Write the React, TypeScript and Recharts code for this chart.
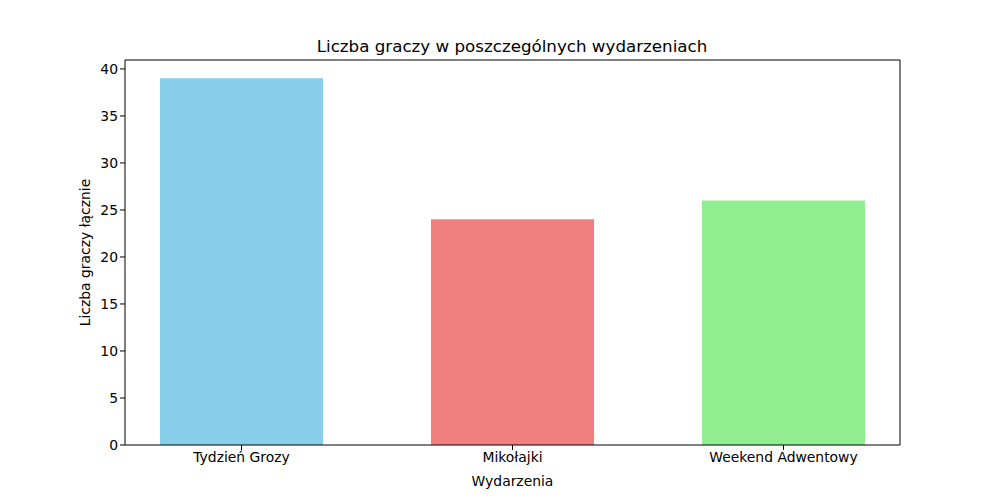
import React from 'react'
import { BarChart, Bar, Cell, XAxis, YAxis, Label, ReferenceLine } from 'recharts'

const events = ['Tydzień Grozy', 'Mikołajki', 'Weekend Adwentowy']
const players = [39, 24, 26]
const barColors = ['#87CEEB', '#F08080', '#90EE90']
const yTicks = [0, 5, 10, 15, 20, 25, 30, 35, 40]

const data = events.map((name, i) => ({ pos: i, name, players: players[i] }))

const xMin = -0.43
const xMax = 2.43
const yMax = 40.95

const font = 'DejaVu Sans, sans-serif'
const tickStyle = { fontSize: 13.9, fill: '#000', fontFamily: font }

export default function App() {
  return (
    <div style={{ position: 'absolute', left: 0, top: 0, width: 1000, height: 500, background: '#fff' }}>
      <svg width={1000} height={500} style={{ position: 'absolute', left: 0, top: 0, pointerEvents: 'none' }}>
        <text x={512} y={52} textAnchor="middle" fontSize={16.7} fontFamily={font} fill="#000">
          Liczba graczy w poszczególnych wydarzeniach
        </text>
      </svg>
      <BarChart
        width={1000}
        height={500}
        data={data}
        margin={{ top: 60, right: 100, bottom: 25, left: 65 }}
        style={{ position: 'absolute', left: 0, top: 0 }}
      >
        <XAxis
          dataKey="pos"
          type="number"
          domain={[xMin, xMax]}
          ticks={[0, 1, 2]}
          tickFormatter={(v) => events[v]}
          allowDataOverflow
          height={30}
          tick={tickStyle}
          tickSize={5}
          axisLine={{ stroke: '#000' }}
          tickLine={{ stroke: '#000' }}
        >
          <Label value="Wydarzenia" position="insideBottom" offset={-11} style={{ fontSize: 13.9, fill: '#000', fontFamily: font }} />
        </XAxis>
        <YAxis
          type="number"
          domain={[0, yMax]}
          ticks={yTicks}
          allowDataOverflow
          width={60}
          tick={tickStyle}
          tickSize={5}
          axisLine={{ stroke: '#000' }}
          tickLine={{ stroke: '#000' }}
        >
          <Label
            value="Liczba graczy łącznie"
            angle={-90}
            position="insideLeft"
            offset={20}
            style={{ textAnchor: 'middle', fontSize: 13.9, fill: '#000', fontFamily: font }}
          />
        </YAxis>
        <Bar dataKey="players" barSize={163} isAnimationActive={false}>
          {data.map((d, i) => (
            <Cell key={d.name} fill={barColors[i]} />
          ))}
        </Bar>
        <ReferenceLine y={yMax} stroke="#000" ifOverflow="visible" />
        <ReferenceLine x={xMax} stroke="#000" ifOverflow="visible" />
      </BarChart>
    </div>
  )
}
